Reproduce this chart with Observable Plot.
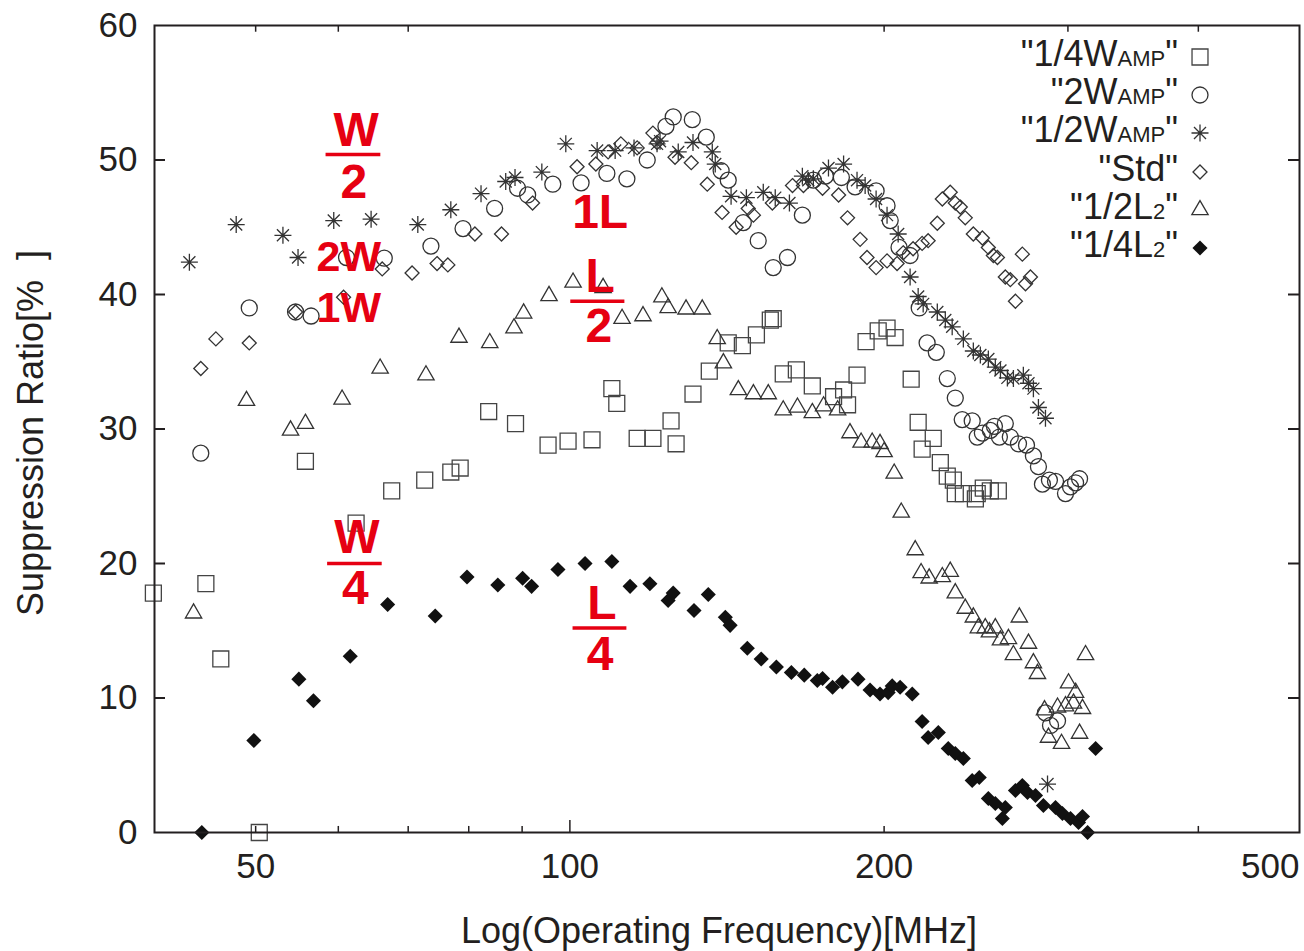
<!DOCTYPE html>
<html>
<head>
<meta charset="utf-8">
<script src="https://cdn.jsdelivr.net/npm/d3@7"></script>
<script src="https://cdn.jsdelivr.net/npm/@observablehq/plot@0.6"></script>
<style>
  html, body { margin: 0; padding: 0; background: #fff; }
  #wrap { position: relative; width: 1304px; height: 951px; overflow: hidden; font-family: "Liberation Sans", Arial, sans-serif; color: #231f20; }
  #wrap svg.chart { position: absolute; left: 0; top: 0; }
  .lg { position: absolute; left: 0; width: 1178px; text-align: right; font-size: 36px; line-height: 38px; white-space: nowrap; }
  .lg .s { font-size: 22px; }
  .lgsym { position: absolute; width: 24px; height: 24px; overflow: visible; }
</style>
</head>
<body>
<div id="wrap"></div>
<script>
// ---------------- data (frequency MHz, suppression %) ----------------
const quarterWAMP = [[39.9,17.8],[44.8,18.5],[46.3,12.9],[50.4,0],[55.8,27.6],[62.4,23.0],[67.5,25.4],[72.6,26.2],[76.9,26.8],[78.5,27.1],[83.6,31.3],[88.7,30.4],[95.3,28.8],[99.6,29.1],[105.0,29.2],[109.7,33.0],[110.9,31.9],[116.0,29.3],[120.1,29.3],[125.0,30.6],[126.4,28.9],[131.2,32.6],[136.0,34.3],[141.8,36.4],[146.3,36.2],[150.9,37.0],[155.6,38.1],[156.6,38.2],[160.1,34.1],[164.8,34.4],[170.7,33.2],[178.9,32.4],[182.9,32.9],[184.5,31.8],[188.4,34.0],[192.2,36.5],[197.4,37.3],[201.3,37.5],[204.9,36.8],[212.3,33.7],[215.6,30.5],[217.5,28.5],[222.9,29.3],[226.4,27.5],[229.9,26.5],[233.0,26.2],[234.0,25.2],[238.2,25.2],[244.6,24.8],[245.6,25.2],[248.9,25.6],[252.8,25.4],[257.3,25.4]];

const twoWAMP = [[44.3,28.2],[49.3,39.0],[54.6,38.7],[56.5,38.4],[61.1,42.75],[66.4,42.7],[73.6,43.6],[79.0,44.9],[84.7,46.4],[89.1,47.9],[91.1,47.4],[96.3,48.2],[102.5,48.3],[108.5,49.0],[113.4,48.6],[118.6,50.0],[123.6,52.5],[125.6,53.2],[131.0,53.0],[135.1,51.7],[139.6,49.2],[141.8,48.5],[146.6,45.35],[151.5,44.0],[156.6,42.0],[161.6,42.75],[167.0,45.9],[171.1,48.5],[175.7,48.8],[182.0,48.7],[187.6,48.0],[196.5,47.7],[201.3,46.6],[202.7,45.5],[206.7,43.5],[211.8,42.9],[216.1,39.0],[219.9,36.4],[224.4,35.7],[229.9,33.75],[234.0,32.3],[237.6,30.7],[242.9,30.6],[245.6,29.4],[248.4,29.7],[252.8,29.9],[255.1,30.2],[257.9,29.4],[261.3,30.4],[264.2,29.4],[269.0,28.9],[273.8,28.8],[278.0,28.0],[281.1,27.2],[283.6,25.9],[288.0,26.2],[291.9,26.1],[298.4,25.2],[301.7,25.7],[305.1,26.0],[307.8,26.3],[285.5,8.9],[288.7,7.96],[293.2,8.3]];

const halfWAMP = [[43.2,42.4],[47.9,45.2],[53.1,44.4],[54.9,42.75],[59.4,45.5],[64.5,45.6],[71.5,45.2],[76.9,46.3],[82.2,47.5],[86.8,48.4],[88.6,48.7],[94.0,49.1],[99.1,51.2],[106.2,50.7],[110.5,50.7],[115.2,50.9],[121.2,51.2],[122.0,51.4],[127.0,50.6],[131.2,51.3],[136.9,50.6],[137.8,49.7],[142.7,47.3],[147.6,47.2],[153.2,47.6],[157.3,47.2],[162.3,46.8],[167.0,48.8],[169.2,48.5],[171.1,48.6],[176.9,49.4],[182.9,49.7],[188.4,48.5],[191.8,48.1],[196.5,47.1],[201.3,45.9],[206.3,44.5],[211.8,41.3],[215.6,39.85],[218.0,39.3],[224.9,38.7],[228.9,38.1],[232.4,37.6],[238.2,36.7],[243.5,35.8],[247.3,35.5],[251.7,35.2],[255.6,34.6],[258.5,34.35],[262.5,33.8],[266.0,33.75],[271.9,34.0],[275.0,33.4],[278.0,33.0],[281.1,31.6],[285.5,30.8],[286.8,3.6]];

const std = [[44.3,34.5],[45.8,36.7],[49.3,36.4],[54.6,38.7],[60.7,39.8],[66.1,41.9],[70.6,41.6],[74.6,42.3],[76.4,42.2],[81.1,44.5],[86.0,44.5],[92.1,46.8],[101.6,49.5],[105.9,49.7],[108.8,50.6],[111.9,51.2],[116.0,50.9],[120.1,52.0],[121.2,51.3],[126.1,50.2],[130.7,49.8],[135.4,48.2],[139.9,46.1],[144.3,45.0],[148.2,46.4],[149.9,45.9],[156.3,46.8],[163.4,48.1],[167.4,48.1],[174.6,47.9],[180.9,47.4],[184.5,45.7],[189.7,44.1],[192.6,42.75],[196.5,42.0],[201.3,42.5],[205.8,42.3],[208.6,43.1],[213.2,43.4],[217.5,43.8],[220.4,44.0],[224.9,45.3],[227.4,47.1],[231.4,47.6],[234.0,46.8],[236.6,46.5],[239.2,45.7],[243.5,44.5],[248.4,44.2],[251.7,43.5],[254.5,42.9],[256.8,42.75],[261.3,41.3],[264.2,41.1],[267.2,39.5],[271.3,43.0],[273.2,40.8],[276.2,41.3]];

const halfL2 = [[43.6,16.3],[49.0,32.1],[54.0,29.9],[55.8,30.4],[60.5,32.2],[65.8,34.5],[72.8,34.0],[78.3,36.8],[83.8,36.4],[88.4,37.5],[90.3,38.6],[95.5,39.9],[100.7,40.9],[107.6,40.5],[112.2,38.2],[117.5,38.4],[122.5,39.8],[124.2,39.0],[129.2,38.9],[133.9,38.9],[138.4,36.7],[140.3,34.9],[145.0,32.9],[149.9,32.6],[154.9,32.6],[160.1,31.4],[165.2,31.6],[170.7,31.2],[175.0,31.7],[180.5,31.4],[185.5,29.7],[190.1,29.0],[194.8,29.0],[198.2,28.9],[200.0,28.3],[204.5,26.7],[207.7,23.8],[214.2,21.0],[217.0,19.3],[220.9,18.9],[227.4,19.0],[231.4,19.4],[234.0,17.8],[239.2,16.65],[243.5,16.0],[246.2,15.2],[250.0,15.2],[252.3,14.9],[255.6,15.2],[258.5,14.3],[263.1,14.4],[266.0,13.2],[269.5,16.0],[275.0,14.05],[278.0,12.6],[280.5,11.8],[284.9,9.1],[287.4,7.06],[293.2,9.3],[295.8,6.6],[298.4,9.4],[300.4,11.1],[303.7,9.6],[305.1,10.4],[307.8,7.36],[309.8,9.2],[311.9,13.2]];

const quarterL2 = [[44.4,0],[49.8,6.84],[55.0,11.4],[56.8,9.8],[61.6,13.1],[66.9,16.95],[74.3,16.1],[79.7,19.0],[85.3,18.4],[90.1,18.9],[91.9,18.3],[97.4,19.55],[103.4,20.0],[109.7,20.15],[114.2,18.3],[119.3,18.5],[124.2,17.25],[125.6,17.8],[131.5,16.5],[135.7,17.7],[140.9,16.0],[142.4,15.4],[147.9,13.7],[152.5,12.9],[157.7,12.3],[163.0,11.9],[167.7,11.7],[172.6,11.3],[174.6,11.45],[178.5,10.8],[182.4,11.2],[188.8,11.4],[193.9,10.6],[198.2,10.3],[201.8,10.4],[203.6,10.9],[207.2,10.8],[212.8,10.3],[217.5,8.25],[220.4,7.06],[225.4,7.43],[230.4,6.25],[234.0,5.87],[238.2,5.5],[242.9,3.87],[246.7,4.09],[251.7,2.53],[255.6,2.16],[259.6,1.04],[261.3,1.86],[267.2,3.12],[271.3,3.49],[274.4,2.97],[279.3,2.75],[284.2,2.01],[291.9,1.86],[296.4,1.41],[301.7,1.04],[307.1,0.74],[309.8,1.19],[313.3,0],[318.9,6.25]];

const seriesNames = ["\"1/4W<span class='s'>AMP</span>\"", "\"2W<span class='s'>AMP</span>\"", "\"1/2W<span class='s'>AMP</span>\"", "\"Std\"", "\"1/2L<span class='s'>2</span>\"", "\"1/4L<span class='s'>2</span>\""];

// axis ticks
const yTicks = [0, 10, 20, 30, 40, 50, 60];
const xTickLabels = [50, 100, 200];
const xTickLabelEnd = [500];
const xBottomTicks = [50, 60, 70, 80, 90, 100, 200, 400];
const xTopTicks = [50, 60, 70, 200, 300, 400];
const yInnerTicks = [10, 20, 30, 40, 50];

// red annotations
const annoText = ["W", "2", "2W\n1W", "1L", "L", "2", "W", "4", "L", "4"];
const annoX = [62.4, 62.1, 61.4, 106.9, 106.9, 106.6, 62.5, 62.3, 107.3, 106.9];
const annoY = [52.2, 48.3, 41.05, 46.1, 41.3, 37.6, 21.9, 18.1, 17.0, 13.2];
const barX1 = [58.4, 100.2, 58.6, 100.7];
const barX2 = [65.9, 112.9, 66.1, 113.4];
const barY = [50.4, 39.5, 20.0, 15.2];

// ---------------- rendering ----------------
const RED = "#e60012";
const INK = "#231f20";
const SYM = "#333333";

const asterisk8 = {
  draw(ctx, size) {
    const r = Math.sqrt(size / Math.PI);
    for (let i = 0; i < 4; i++) {
      const a = i * Math.PI / 4;
      const c = r * Math.cos(a), s = r * Math.sin(a);
      ctx.moveTo(c, s); ctx.lineTo(-c, -s);
    }
  }
};

const symDefs = [
  {symbol: "square", r: 9, fill: "none", stroke: "#444"},
  {symbol: "circle", r: 8, fill: "none", stroke: SYM},
  {symbol: asterisk8, r: 8.5, fill: "none", stroke: SYM},
  {symbol: "diamond2", r: 6.3, fill: "none", stroke: SYM},
  {symbol: "triangle2", r: 7.8, fill: "none", stroke: SYM},
  {symbol: "diamond2", r: 6.8, fill: "#111", stroke: "none"}
];
const allSeries = [quarterWAMP, twoWAMP, halfWAMP, std, halfL2, quarterL2];

const anno = annoText.map((t, i) => ({t, x: annoX[i], y: annoY[i]}));
const annoSingle = anno.filter(d => !d.t.includes("\n"));
const annoStack = anno.filter(d => d.t.includes("\n"));
const bars = barY.map((y, i) => ({x1: barX1[i], x2: barX2[i], y}));

const tick11 = 1.0246; // multiplicative step for ~11px on log axis

const chart = Plot.plot({
  width: 1304,
  height: 951,
  marginLeft: 154,
  marginRight: 5,
  marginTop: 25,
  marginBottom: 119,
  x: {type: "log", domain: [40, 500]},
  y: {domain: [0, 60]},
  style: {fontFamily: "'Liberation Sans', Arial, sans-serif", color: INK, background: "white", overflow: "visible"},
  marks: [
    Plot.axisY({ticks: yTicks, tickSize: 0, tickPadding: 17, fontSize: 35, label: null, tickFormat: d => String(d)}),
    Plot.axisX({ticks: xTickLabels, tickSize: 0, tickPadding: 21, fontSize: 35, label: null, tickFormat: d => String(d)}),
    Plot.text(xTickLabelEnd, {x: d => d, frameAnchor: "bottom", dy: 21, lineAnchor: "top", textAnchor: "end", fontSize: 35, fill: INK}),
    Plot.text(["Log(Operating Frequency)[MHz]"], {frameAnchor: "bottom", dy: 85, dx: -8, lineAnchor: "top", fontSize: 36, fill: INK}),
    Plot.text(["Suppression Ratio[%\u00a0\u00a0]"], {frameAnchor: "left", dx: -123, dy: 4, rotate: -90, textAnchor: "middle", lineAnchor: "middle", fontSize: 36, fill: INK}),
    // inward ticks
    Plot.ruleY(yInnerTicks, {y: d => d, x1: 40, x2: 40 * tick11, stroke: INK, strokeWidth: 2}),
    Plot.ruleY(yInnerTicks, {y: d => d, x1: 500 / tick11, x2: 500, stroke: INK, strokeWidth: 2}),
    Plot.ruleX(xBottomTicks, {x: d => d, y1: 0, y2: d => d === 100 ? 0.9 : 0.45, stroke: INK, strokeWidth: 1.5}),
    Plot.ruleX(xTopTicks, {x: d => d, y1: 60, y2: 59.5, stroke: INK, strokeWidth: 1.5}),
    // data
    ...allSeries.map((s, i) => Plot.dot(s, {x: d => d[0], y: d => d[1], symbol: () => symDefs[i].symbol, r: symDefs[i].r, fill: symDefs[i].fill, stroke: symDefs[i].stroke, strokeWidth: 1.3})),
    // annotations
    Plot.text(annoSingle, {x: "x", y: "y", text: "t", fill: RED, fontSize: 48, fontWeight: "bold", lineAnchor: "middle"}),
    Plot.text(annoStack, {x: "x", y: "y", text: "t", fill: RED, fontSize: 43, fontWeight: "bold", lineAnchor: "middle", lineHeight: 1.19}),
    Plot.ruleY(bars, {x1: "x1", x2: "x2", y: "y", stroke: RED, strokeWidth: 3.5}),
    Plot.frame({stroke: INK, strokeWidth: 2})
  ]
});
chart.classList.add("chart");
const wrap = document.getElementById("wrap");
wrap.appendChild(chart);

// legend
const legTop = 35, legStep = 38.2;
seriesNames.forEach((name, i) => {
  const row = document.createElement("div");
  row.className = "lg";
  row.style.top = (legTop + i * legStep) + "px";
  row.innerHTML = name;
  wrap.appendChild(row);
  const def = symDefs[i];
  const size = def.r * def.r * Math.PI;
  let type;
  if (def.symbol === "square") type = d3.symbolSquare;
  else if (def.symbol === "circle") type = d3.symbolCircle;
  else if (def.symbol === "diamond2") type = d3.symbolDiamond2;
  else if (def.symbol === "triangle2") type = d3.symbolTriangle2;
  else type = def.symbol;
  const path = d3.symbol(type, size)();
  const svg = d3.create("svg").attr("class", "lgsym").attr("viewBox", "-12 -12 24 24")
    .style("left", "1188px").style("top", (legTop + 22 - 12 + i * legStep) + "px");
  svg.append("path").attr("d", path).attr("fill", def.fill).attr("stroke", def.stroke).attr("stroke-width", 1.3);
  wrap.appendChild(svg.node());
});
</script>
</body>
</html>
